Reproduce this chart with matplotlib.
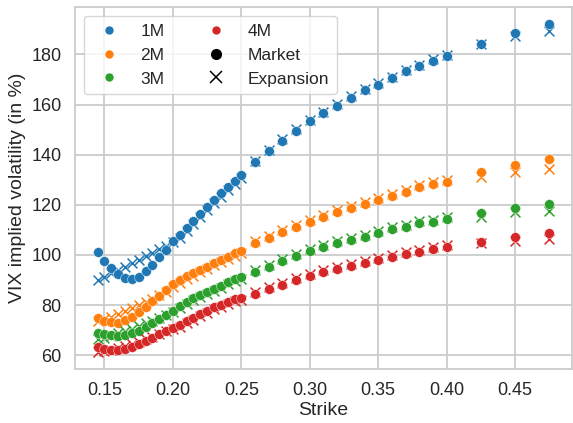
import matplotlib
matplotlib.use("Agg")
from matplotlib import pyplot as plt
from matplotlib.lines import Line2D
import seaborn as sns

strikes = [0.145, 0.15, 0.155, 0.16, 0.165, 0.17, 0.175, 0.18, 0.185, 0.19, 0.195,
           0.20, 0.205, 0.21, 0.215, 0.22, 0.225, 0.23, 0.235, 0.24, 0.245, 0.25,
           0.26, 0.27, 0.28, 0.29, 0.30, 0.31, 0.32, 0.33, 0.34, 0.35, 0.36, 0.37,
           0.38, 0.39, 0.40, 0.425, 0.45, 0.475]

maturities = ["1M", "2M", "3M", "4M"]

market_1m = [101.1, 97.7, 94.9, 92.3, 90.8, 90.4, 91.2, 93.5, 96.1, 99.1, 102.0,
             105.5, 108.1, 110.9, 113.7, 116.5, 119.2, 122.0, 124.7, 127.3, 129.7, 132.0,
             136.9, 141.3, 145.6, 149.6, 153.3, 156.7, 159.6, 162.8, 165.7, 168.0, 170.5,
             173.2, 175.3, 177.5, 179.3, 184.3, 188.7, 192.3]
expansion_1m = [90.0, 91.3, 92.6, 93.9, 95.2, 96.6, 98.0, 99.4, 100.8, 102.2, 103.6,
                105.0, 106.8, 109.5, 112.3, 115.1, 117.8, 120.6, 123.3, 125.9, 128.3, 130.6,
                137.4, 141.8, 146.1, 150.1, 153.8, 157.2, 160.1, 163.3, 166.2, 168.5, 171.0,
                173.7, 175.8, 178.0, 179.8, 184.2, 187.3, 189.3]

market_2m = [74.9, 73.7, 73.3, 72.7, 73.9, 75.3, 77.1, 79.3, 81.7, 83.7, 85.9,
             88.5, 89.9, 91.4, 92.7, 94.0, 95.3, 96.8, 98.0, 99.3, 100.6, 101.7,
             104.7, 106.7, 109.1, 111.1, 113.1, 115.0, 117.1, 118.8, 120.4, 122.0, 123.7,
             125.3, 127.1, 128.3, 129.3, 132.9, 135.7, 138.4]
expansion_2m = [73.5, 74.4, 75.4, 76.5, 77.6, 78.8, 80.0, 81.3, 82.6, 83.9, 85.2,
                87.2, 88.9, 90.4, 91.7, 93.0, 94.3, 95.8, 97.0, 98.3, 99.6, 100.7,
                105.5, 107.5, 109.9, 111.9, 113.9, 115.8, 117.9, 119.6, 121.2, 122.8, 124.5,
                126.1, 127.9, 129.1, 130.1, 131.1, 133.1, 134.3]

market_3m = [68.7, 68.3, 68.0, 67.7, 68.0, 68.7, 69.7, 71.1, 72.7, 74.4, 76.0,
             77.8, 79.6, 81.2, 82.7, 84.0, 85.3, 86.5, 87.7, 89.1, 90.3, 91.0,
             93.3, 95.3, 97.6, 99.7, 101.4, 103.1, 104.7, 106.0, 107.3, 108.9, 110.4,
             111.3, 112.7, 113.2, 114.3, 116.7, 118.9, 120.4]
expansion_3m = [66.3, 67.0, 67.8, 68.7, 69.6, 70.6, 71.6, 72.7, 73.8, 75.0, 76.2,
                77.4, 78.8, 80.4, 81.9, 83.2, 84.5, 85.7, 86.9, 88.3, 89.5, 90.3,
                94.1, 96.1, 98.4, 100.5, 102.2, 103.9, 105.5, 106.8, 108.1, 109.7, 111.2,
                112.1, 113.5, 114.0, 115.1, 115.1, 117.1, 117.7]

market_4m = [63.3, 62.3, 62.0, 62.0, 62.4, 63.3, 64.3, 65.6, 66.9, 68.4, 69.6,
             70.9, 72.0, 73.6, 74.9, 76.3, 77.7, 79.1, 80.0, 81.1, 82.3, 82.9,
             84.4, 86.3, 88.0, 90.0, 91.4, 93.0, 94.3, 95.7, 96.9, 98.0, 99.3,
             100.4, 101.3, 102.3, 103.1, 105.3, 107.3, 108.9]
expansion_4m = [61.1, 61.6, 62.2, 62.9, 63.7, 64.5, 65.4, 66.3, 67.3, 68.4, 69.5,
                70.3, 71.3, 72.9, 74.2, 75.6, 77.0, 78.4, 79.3, 80.4, 81.6, 82.2,
                85.2, 87.1, 88.8, 90.8, 92.2, 93.8, 95.1, 96.5, 97.7, 98.8, 100.1,
                101.2, 102.1, 103.1, 103.9, 104.7, 105.6, 106.3]

market = [market_1m, market_2m, market_3m, market_4m]
expansion = [expansion_1m, expansion_2m, expansion_3m, expansion_4m]

sns.set_theme(style="whitegrid", rc={"grid.linewidth": 1.3, "axes.linewidth": 1.3})
plt.rcParams['font.family'] = ['Liberation Sans', 'DejaVu Sans']
colors = sns.color_palette("tab10")[:4]

fig, ax = plt.subplots(figsize=(5.73, 4.23), dpi=100)
fig.subplots_adjust(left=0.131, right=0.998, top=0.983, bottom=0.128)

for i, name in enumerate(maturities):
    ax.scatter(strikes, expansion[i], marker="x", s=50, color=colors[i], linewidths=1.1)
    ax.scatter(strikes, market[i], marker="o", s=50, color=colors[i],
               edgecolors="white", linewidths=0.3)

ax.set_xlabel("Strike", fontsize=14, labelpad=2)
ax.set_ylabel("VIX implied volatility (in %)", fontsize=14, labelpad=4)
ax.set_yticks([60, 80, 100, 120, 140, 160, 180])
ax.set_xticks([0.15, 0.20, 0.25, 0.30, 0.35, 0.40, 0.45])
ax.tick_params(labelsize=13)

handles = [Line2D([], [], ls="", marker="o", ms=5, color=colors[0]),
           Line2D([], [], ls="", marker="o", ms=5, color=colors[1]),
           Line2D([], [], ls="", marker="o", ms=5, color=colors[2]),
           Line2D([], [], ls="", marker="o", ms=5, color=colors[3]),
           Line2D([], [], ls="", marker="o", ms=7, color="black"),
           Line2D([], [], ls="", marker="x", ms=8, color="black", mew=1.1)]
labels = maturities + ["Market", "Expansion"]
ax.legend(handles, labels, ncol=2, loc="upper left", fontsize=12.5,
          columnspacing=2.0, handletextpad=0.8, borderpad=0.45, labelspacing=0.5)

fig.savefig("out.png", dpi=100)
